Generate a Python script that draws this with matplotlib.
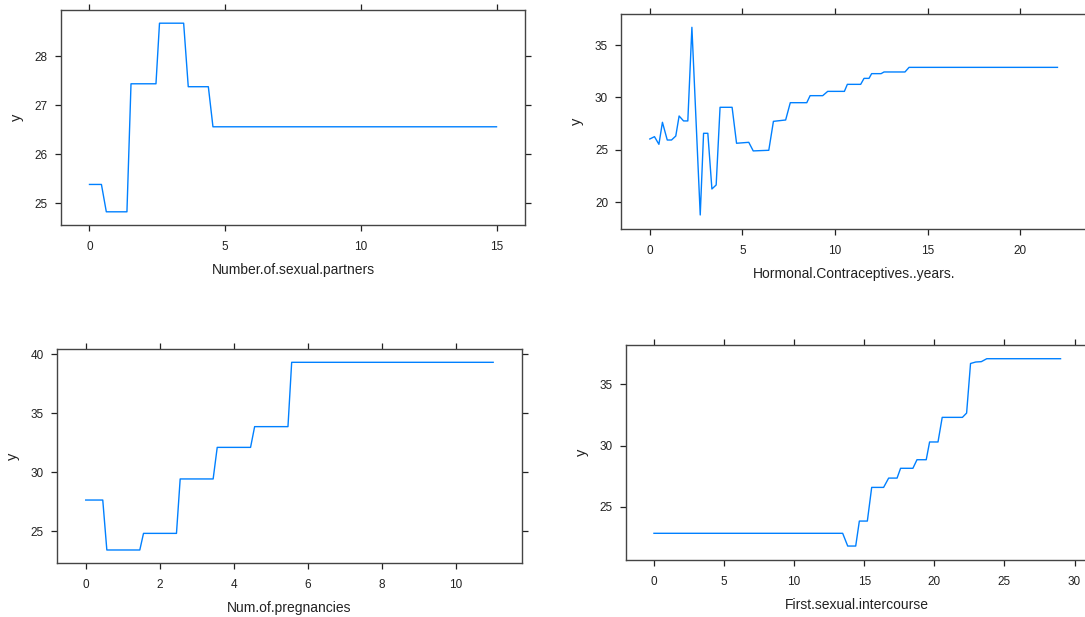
import matplotlib
matplotlib.use("Agg")
import matplotlib.pyplot as plt

plt.rcParams['font.family'] = ['Liberation Sans', 'DejaVu Sans']

# partial dependence curves, vertices
partners_x = [0, 0.44, 0.62, 1.38, 1.53, 2.45, 2.58, 3.47, 3.64, 4.38, 4.55, 15]
partners_y = [25.38, 25.38, 24.82, 24.82, 27.44, 27.44, 28.68, 28.68, 27.38, 27.38, 26.56, 26.56]

hormonal_x = [0, 0.25, 0.49, 0.68, 0.94, 1.17, 1.40, 1.58, 1.82, 2.05, 2.27, 2.72,
              2.90, 3.13, 3.35, 3.58, 3.79, 4.44, 4.68, 5.34, 5.58, 6.42, 6.67, 7.33,
              7.58, 8.47, 8.65, 9.33, 9.60, 10.50, 10.66, 11.38, 11.56, 11.83, 11.97,
              12.48, 12.64, 13.77, 13.99, 22]
hormonal_y = [26.04, 26.26, 25.53, 27.63, 25.94, 25.94, 26.32, 28.23, 27.76, 27.76, 36.69, 18.79,
              26.58, 26.58, 21.27, 21.65, 29.06, 29.06, 25.63, 25.72, 24.90, 24.96, 27.72, 27.85,
              29.50, 29.50, 30.17, 30.17, 30.58, 30.58, 31.25, 31.25, 31.82, 31.82, 32.27,
              32.27, 32.43, 32.43, 32.87, 32.87]

pregn_x = [0, 0.46, 0.57, 1.46, 1.56, 2.45, 2.55, 3.44, 3.55, 4.45, 4.56, 5.46, 5.56, 11]
pregn_y = [27.63, 27.63, 23.39, 23.39, 24.80, 24.80, 29.42, 29.42, 32.10, 32.10, 33.86, 33.86, 39.32, 39.32]

first_x = [0, 13.46, 13.82, 14.39, 14.65, 15.22, 15.53, 16.38, 16.74, 17.34, 17.59, 18.47,
           18.76, 19.42, 19.66, 20.26, 20.56, 22.0, 22.3, 22.58, 22.95, 23.35, 23.74, 29.0]
first_y = [22.83, 22.83, 21.79, 21.79, 23.83, 23.83, 26.58, 26.58, 27.34, 27.34, 28.14, 28.14,
           28.84, 28.84, 30.29, 30.29, 32.30, 32.30, 32.65, 36.70, 36.82, 36.85, 37.09, 37.09]

panels = [
    # name, x, y, xticks, yticks, rect in pixels (left, top, right, bottom), xlim, ylim
    ("Number.of.sexual.partners", partners_x, partners_y, [0, 5, 10, 15], [25, 26, 27, 28],
     (61, 10, 525, 225), (-1.05, 16.05), (24.55, 28.95)),
    ("Hormonal.Contraceptives..years.", hormonal_x, hormonal_y, [0, 5, 10, 15, 20], [20, 25, 30, 35],
     (621.3, 14, 1086, 228.7), (-1.54, 23.54), (17.48, 37.96)),
    ("Num.of.pregnancies", pregn_x, pregn_y, [0, 2, 4, 6, 8, 10], [25, 30, 35, 40],
     (57.2, 349, 521.7, 563.3), (-0.77, 11.77), (22.26, 40.45)),
    ("First.sexual.intercourse", first_x, first_y, [0, 5, 10, 15, 20, 25, 30], [25, 30, 35],
     (625.5, 345, 1089, 560), (-2.03, 31.03), (20.65, 38.21)),
]

W, H = 1085, 617
fig = plt.figure(figsize=(W / 100, H / 100), dpi=100)

for name, xs, ys, xt, yt, (l, t, r, b), xl, yl in panels:
    ax = fig.add_axes([l / W, 1 - b / H, (r - l) / W, (b - t) / H])
    ax.plot(xs, ys, color='#0080ff', lw=1.0)
    ax.set_xlim(*xl)
    ax.set_ylim(*yl)
    ax.set_xticks(xt)
    ax.set_yticks(yt)
    for s in ax.spines.values():
        s.set_color('#444444')
        s.set_linewidth(1.0)
    ax.tick_params(direction='out', length=4.5, width=0.9, color='#222222',
                   labelsize=8.5, labelcolor='#222222', top=True, right=True)
    ax.tick_params(axis='x', pad=7)
    ax.tick_params(axis='y', pad=5)
    ax.set_xlabel(name, fontsize=10, color='#222222')
    ax.set_ylabel('y', fontsize=10.5, color='#222222')
    ax.xaxis.set_label_coords(0.5, -45 / (b - t))
    ax.xaxis.label.set_verticalalignment('center')
    ax.yaxis.set_label_coords(-44 / (r - l), 0.5)
    ax.yaxis.label.set_verticalalignment('center')

fig.savefig('out.png', dpi=100, facecolor='white')
